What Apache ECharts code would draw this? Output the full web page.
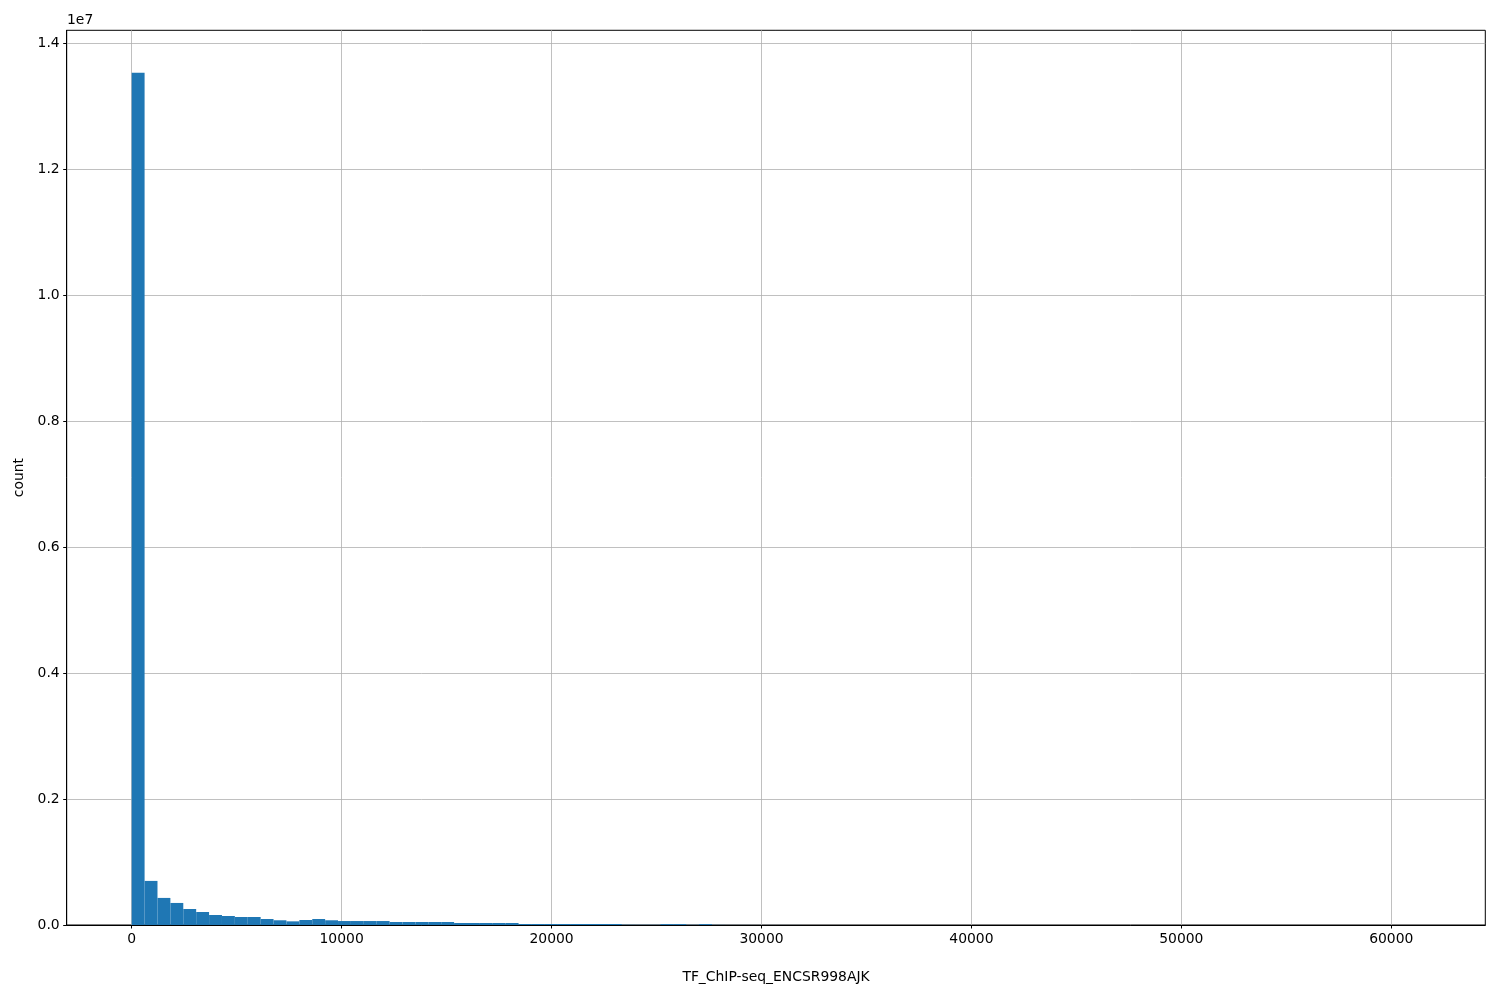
<!DOCTYPE html>
<html>
<head>
<meta charset="utf-8">
<script src="https://cdn.jsdelivr.net/npm/echarts@6/dist/echarts.min.js"></script>
<style>html,body{margin:0;padding:0;background:#fff}#c{width:1500px;height:1000px}</style>
</head>
<body>
<div id="c"></div>
<script>
// Histogram data (100 bins from 0 to ~61430)
const binMin = 0;
const binWidth = 614.3;
const counts = [
  13530000, 700000, 430000, 350000, 254000, 206000, 159000, 143000, 127000, 127000,
  95000, 75000, 58000, 79000, 95000, 75000, 63000, 63000, 63000, 63000,
  48000, 48000, 48000, 48000, 48000, 32000, 32000, 32000, 32000, 32000,
  16000, 16000, 16000, 16000, 16000, 16000, 16000, 16000, 4000, 3000,
  3000, 14000, 14000, 3000, 14000, 2000, 1000, 1000, 500, 500,
  500, 500, 300, 300, 300, 200, 200, 100, 100, 100,
  100, 100, 50, 50, 50, 50, 50, 20, 20, 20,
  20, 20, 10, 10, 10, 10, 10, 5, 5, 5,
  5, 5, 5, 5, 2, 2, 2, 2, 2, 2,
  1, 1, 1, 1, 1, 1, 1, 1, 1, 1
];
const xTicks = [0, 10000, 20000, 30000, 40000, 50000, 60000];
const yTicks = [0, 2000000, 4000000, 6000000, 8000000, 10000000, 12000000, 14000000];
const xLabel = 'TF_ChIP-seq_ENCSR998AJK';
const yLabel = 'count';

const data = counts.map((c, i) => [binMin + i * binWidth, binMin + (i + 1) * binWidth, c]);

const FONT = 'DejaVu Sans';
const chart = echarts.init(document.getElementById('c'), null, {renderer: 'canvas'});
chart.setOption({
  animation: false,
  backgroundColor: '#fff',
  grid: {left: 66.7, right: 14.7, top: 30.3, bottom: 75, show: true, borderColor: '#000', borderWidth: 1, containLabel: false},
  graphic: [{type: 'text', left: 67, top: 13, style: {text: '1e7', font: '13.9px "DejaVu Sans"', fill: '#000'}}],
  xAxis: {
    type: 'value', min: -3096, max: 64478,
    axisLine: {show: true, onZero: false, lineStyle: {color: '#000', width: 1}},
    axisTick: {show: true, length: 3.5, lineStyle: {color: '#000', width: 1}, customValues: xTicks},
    axisLabel: {show: true, margin: 7, color: '#000', fontFamily: FONT, fontSize: 13.9, customValues: xTicks,
      formatter: v => String(v)},
    splitLine: {show: true, lineStyle: {color: '#b0b0b0', width: 0.8}},
    name: xLabel, nameLocation: 'middle', nameGap: 45,
    nameTextStyle: {color: '#000', fontFamily: FONT, fontSize: 13.9}
  },
  yAxis: {
    type: 'value', min: 0, max: 14206000,
    axisLine: {show: true, onZero: false, lineStyle: {color: '#000', width: 1}},
    axisTick: {show: true, length: 3.5, lineStyle: {color: '#000', width: 1}, customValues: yTicks},
    axisLabel: {show: true, margin: 7, color: '#000', fontFamily: FONT, fontSize: 13.9, customValues: yTicks,
      formatter: v => (v / 1e7).toFixed(1)},
    splitLine: {show: true, lineStyle: {color: '#b0b0b0', width: 0.8}},
    name: yLabel, nameLocation: 'middle', nameGap: 35, nameRotate: 90,
    nameTextStyle: {color: '#000', fontFamily: FONT, fontSize: 13.9}
  },
  series: [{
    type: 'custom',
    data: data,
    encode: {x: [0, 1], y: 2},
    renderItem: function (params, api) {
      const p0 = api.coord([api.value(0), api.value(2)]);
      const p1 = api.coord([api.value(1), 0]);
      return {
        type: 'rect',
        shape: {x: p0[0], y: p0[1], width: p1[0] - p0[0], height: p1[1] - p0[1]},
        style: {fill: '#1f77b4'}
      };
    }
  }]
});
</script>
</body>
</html>
